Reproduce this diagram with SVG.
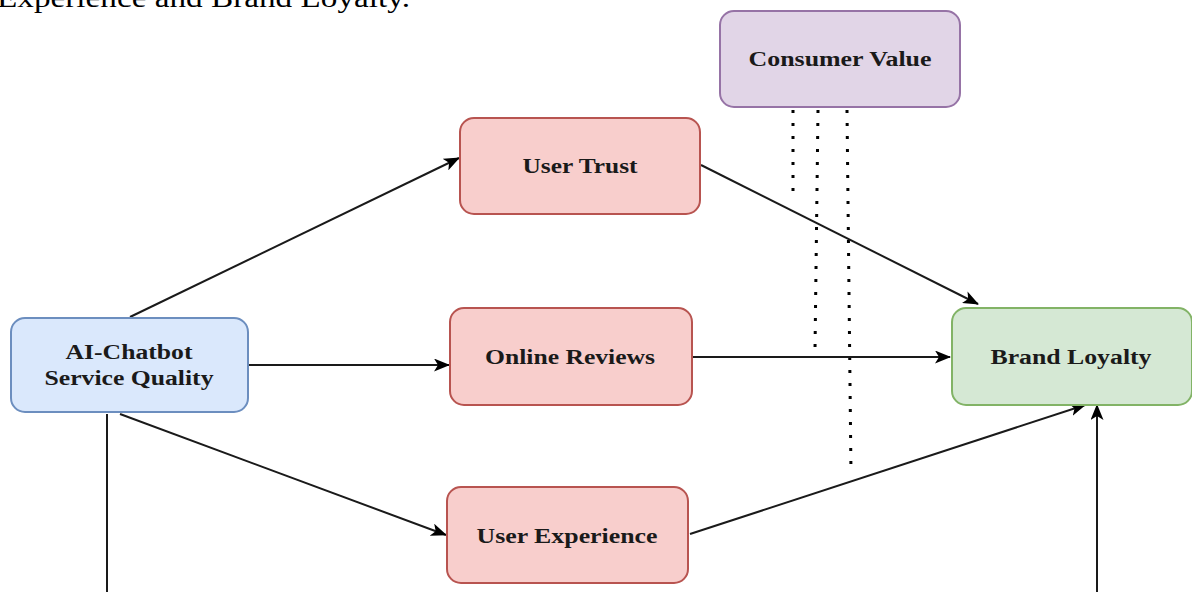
<svg xmlns="http://www.w3.org/2000/svg" width="1192" height="592" viewBox="0 0 1192 592">
<style>
.lbl{font-family:"Liberation Serif","Times New Roman",serif;font-weight:bold;font-size:20px;fill:#1a1a1a;text-anchor:middle}
.edge{stroke:#1a1a1a;stroke-width:2;fill:none}
.dot{stroke:#000;stroke-width:3;fill:none;stroke-dasharray:3 10}
.blue{fill:#dae8fc;stroke:#6c8ebf;stroke-width:2}
.red{fill:#f8cecc;stroke:#b85450;stroke-width:2}
.green{fill:#d5e8d4;stroke:#82b366;stroke-width:2}
.purple{fill:#e1d5e7;stroke:#9673a6;stroke-width:2}
</style>
<defs>
<marker id="arr" viewBox="0 0 16 13" refX="15" refY="6.5" markerWidth="16" markerHeight="13" markerUnits="userSpaceOnUse" orient="auto">
<path d="M0,0 L16,6.5 L0,13 L4,6.5 Z" fill="#000"/>
</marker>
</defs>
<rect width="1192" height="592" fill="#fff"/>
<text x="-3" y="7" font-family="Liberation Serif,serif" font-size="28" fill="#000" textLength="413" lengthAdjust="spacingAndGlyphs">Experience and Brand Loyalty.</text>
<g id="connectors">
<line class="dot" x1="793" y1="110" x2="793" y2="200"/>
<line class="dot" x1="818" y1="110" x2="815" y2="350"/>
<line class="dot" x1="847" y1="110" x2="851" y2="474"/>
<line class="edge" x1="130" y1="317" x2="459" y2="158" marker-end="url(#arr)"/>
<line class="edge" x1="248" y1="365" x2="449" y2="365" marker-end="url(#arr)"/>
<line class="edge" x1="120" y1="414" x2="446" y2="535" marker-end="url(#arr)"/>
<polyline class="edge" points="107,414 107,592"/>
<line class="edge" x1="701" y1="165" x2="978" y2="304" marker-end="url(#arr)"/>
<line class="edge" x1="692" y1="357" x2="950" y2="357" marker-end="url(#arr)"/>
<line class="edge" x1="690" y1="534" x2="1085" y2="405" marker-end="url(#arr)"/>
<line class="edge" x1="1097" y1="592" x2="1097" y2="405" marker-end="url(#arr)"/>
</g>
<g id="consumer-value"><rect class="purple" x="720" y="11" width="240" height="96" rx="14"/><text class="lbl" x="840" y="66" textLength="183" lengthAdjust="spacingAndGlyphs">Consumer Value</text></g>
<g id="user-trust"><rect class="red" x="460" y="118" width="240" height="96" rx="14"/><text class="lbl" x="580" y="173" textLength="115" lengthAdjust="spacingAndGlyphs">User Trust</text></g>
<g id="ai-chatbot"><rect class="blue" x="11" y="318" width="237" height="94" rx="14"/><text class="lbl" x="129" y="359" textLength="127" lengthAdjust="spacingAndGlyphs">AI-Chatbot</text><text class="lbl" x="129" y="385" textLength="169" lengthAdjust="spacingAndGlyphs">Service Quality</text></g>
<g id="online-reviews"><rect class="red" x="450" y="308" width="242" height="97" rx="14"/><text class="lbl" x="570" y="364" textLength="170" lengthAdjust="spacingAndGlyphs">Online Reviews</text></g>
<g id="brand-loyalty"><rect class="green" x="952" y="308" width="240" height="97" rx="14"/><text class="lbl" x="1071" y="364" textLength="161" lengthAdjust="spacingAndGlyphs">Brand Loyalty</text></g>
<g id="user-experience"><rect class="red" x="447" y="487" width="241" height="96" rx="14"/><text class="lbl" x="567" y="543" textLength="181" lengthAdjust="spacingAndGlyphs">User Experience</text></g>
</svg>
